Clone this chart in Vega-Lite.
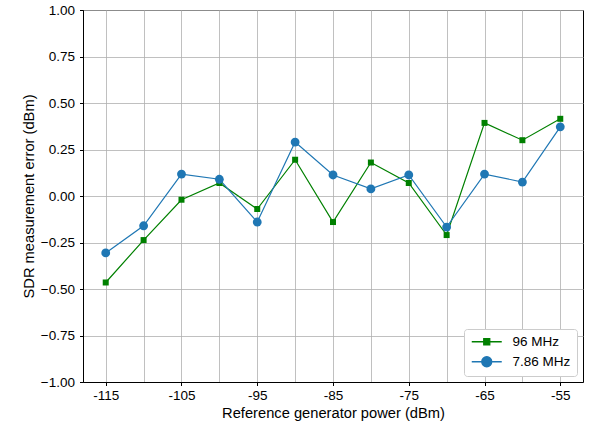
{
  "$schema": "https://vega.github.io/schema/vega-lite/v6.json",
  "width": 500,
  "height": 372,
  "autosize": "none",
  "padding": {"left": 83, "top": 10, "right": 6, "bottom": 44},
  "background": "white",
  "config": {
    "font": "Liberation Sans",
    "view": {"stroke": "black", "strokeWidth": 1},
    "axis": {
      "domainColor": "black",
      "tickColor": "black",
      "labelColor": "black",
      "titleColor": "black",
      "labelFont": "Liberation Sans",
      "titleFont": "Liberation Sans",
      "labelFontSize": 13.5,
      "titleFontSize": 14.7,
      "titleFontWeight": "normal",
      "gridColor": "#b0b0b0",
      "gridWidth": 0.8,
      "tickSize": 3.5,
      "labelPadding": 3
    },
    "legend": {
      "labelFont": "Liberation Sans",
      "labelFontSize": 13.5,
      "labelColor": "black"
    }
  },
  "data": {
    "values": [
      {"power": -115, "error": -0.465, "series": "96 MHz"},
      {"power": -110, "error": -0.237, "series": "96 MHz"},
      {"power": -105, "error": -0.02, "series": "96 MHz"},
      {"power": -100, "error": 0.07, "series": "96 MHz"},
      {"power": -95, "error": -0.07, "series": "96 MHz"},
      {"power": -90, "error": 0.195, "series": "96 MHz"},
      {"power": -85, "error": -0.14, "series": "96 MHz"},
      {"power": -80, "error": 0.18, "series": "96 MHz"},
      {"power": -75, "error": 0.07, "series": "96 MHz"},
      {"power": -70, "error": -0.21, "series": "96 MHz"},
      {"power": -65, "error": 0.393, "series": "96 MHz"},
      {"power": -60, "error": 0.30, "series": "96 MHz"},
      {"power": -55, "error": 0.415, "series": "96 MHz"},
      {"power": -115, "error": -0.306, "series": "7.86 MHz"},
      {"power": -110, "error": -0.16, "series": "7.86 MHz"},
      {"power": -105, "error": 0.118, "series": "7.86 MHz"},
      {"power": -100, "error": 0.09, "series": "7.86 MHz"},
      {"power": -95, "error": -0.14, "series": "7.86 MHz"},
      {"power": -90, "error": 0.29, "series": "7.86 MHz"},
      {"power": -85, "error": 0.113, "series": "7.86 MHz"},
      {"power": -80, "error": 0.038, "series": "7.86 MHz"},
      {"power": -75, "error": 0.113, "series": "7.86 MHz"},
      {"power": -70, "error": -0.167, "series": "7.86 MHz"},
      {"power": -65, "error": 0.118, "series": "7.86 MHz"},
      {"power": -60, "error": 0.075, "series": "7.86 MHz"},
      {"power": -55, "error": 0.372, "series": "7.86 MHz"}
    ]
  },
  "encoding": {
    "x": {
      "field": "power",
      "type": "quantitative",
      "scale": {"domain": [-118, -52], "nice": false, "zero": false},
      "axis": {
        "title": "Reference generator power (dBm)",
        "values": [-115, -110, -105, -100, -95, -90, -85, -80, -75, -70, -65, -60, -55],
        "grid": true,
        "labelExpr": "(datum.value + 115) % 10 === 0 ? toString(datum.value) : ''",
        "tickOpacity": {"condition": {"test": "(datum.value + 115) % 10 === 0", "value": 1}, "value": 0},
        "titlePadding": 3
      }
    },
    "y": {
      "field": "error",
      "type": "quantitative",
      "scale": {"domain": [-1, 1], "nice": false, "zero": false},
      "axis": {
        "title": "SDR measurement error (dBm)",
        "values": [-1, -0.75, -0.5, -0.25, 0, 0.25, 0.5, 0.75, 1],
        "format": ".2f",
        "grid": true,
        "labelPadding": 5,
        "titlePadding": 4
      }
    },
    "color": {
      "field": "series",
      "type": "nominal",
      "scale": {"domain": ["96 MHz", "7.86 MHz"], "range": ["#008000", "#1f77b4"]},
      "legend": {
        "title": null,
        "orient": "bottom-right",
        "offset": 6,
        "padding": 6,
        "strokeColor": "#cccccc",
        "fillColor": "white",
        "cornerRadius": 3,
        "symbolSize": 100,
        "symbolStrokeWidth": 1.3,
        "rowPadding": 5,
        "labelOffset": 29,
        "encode": {
          "symbols": {
            "update": {
              "shape": {"signal": "datum.value === '96 MHz' ? 'M-1,0H5M1.4,-0.6H2.6V0.6H1.4Z' : 'M-1,0H5M1,0A1,1 0 1,0 3,0A1,1 0 1,0 1,0Z'"},
              "fill": {"signal": "datum.value === '96 MHz' ? '#008000' : '#1f77b4'"},
              "stroke": {"signal": "datum.value === '96 MHz' ? '#008000' : '#1f77b4'"},
              "size": {"value": 100},
              "opacity": {"value": 1}
            }
          }
        }
      }
    }
  },
  "layer": [
    {
      "mark": {"type": "line", "strokeWidth": 1.2},
      "encoding": {"detail": {"field": "series"}}
    },
    {
      "mark": {"type": "point", "filled": true, "opacity": 1},
      "encoding": {
        "shape": {"condition": {"test": "datum.series === '96 MHz'", "value": "square"}, "value": "circle"},
        "size": {"condition": {"test": "datum.series === '96 MHz'", "value": 36}, "value": 78}
      }
    }
  ]
}
